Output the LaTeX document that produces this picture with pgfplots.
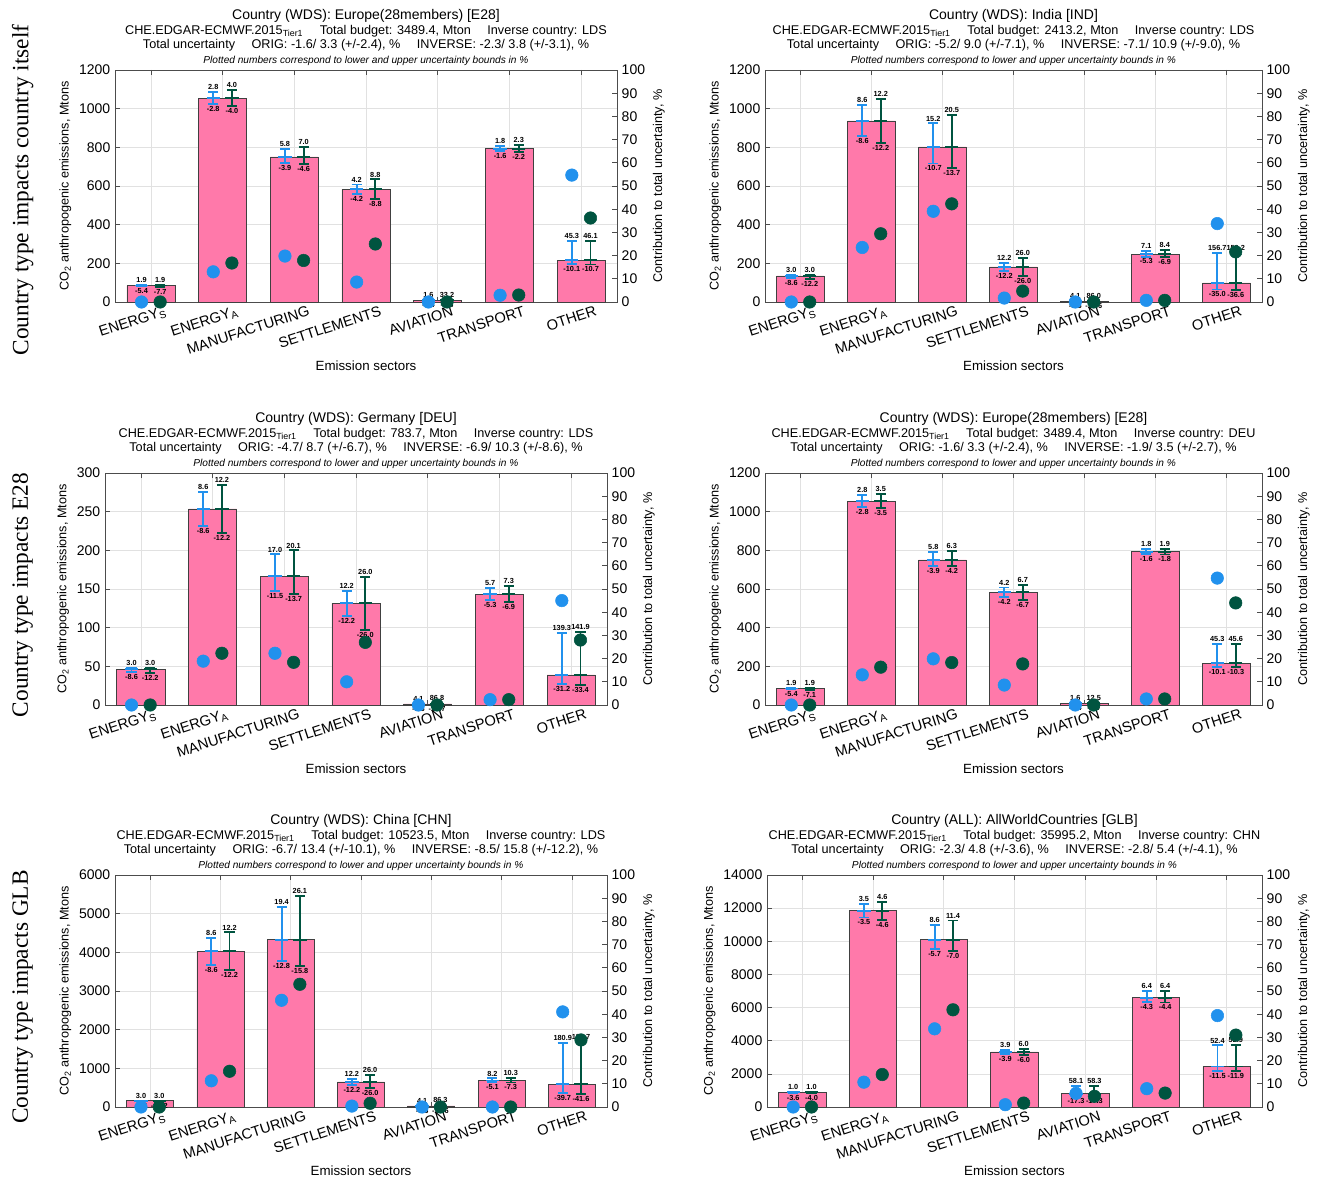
\documentclass[border=0pt]{standalone}
\usepackage{fontspec}
\setmainfont{Liberation Sans}
\newfontfamily\rowfont{Liberation Serif}
\usepackage{pgfplots}
\usepackage{pgfplotstable}
\pgfplotsset{compat=1.18}
\definecolor{barpink}{RGB}{255,121,170}
\definecolor{eblue}{RGB}{33,145,237}
\definecolor{egreen}{RGB}{0,84,64}
\definecolor{gridgray}{RGB}{225,225,225}

% x = sector, y = emissions, bp/bm = ORIG bounds (%), gp/gm = INVERSE bounds (%), bd/gd = contributions (%)
\pgfplotstableread{
x y bp bm gp gm bd gd
1 85 1.9 -5.4 1.9 -7.7 0 0
2 1055 2.8 -2.8 4.0 -4.0 13.0 16.8
3 750 5.8 -3.9 7.0 -4.6 19.8 17.9
4 583 4.2 -4.2 8.8 -8.8 8.6 25.0
5 10 1.6 -1.4 33.2 -9.8 0 0
6 793 1.8 -1.6 2.3 -2.2 2.9 3.0
7 217 45.3 -10.1 46.1 -10.7 54.7 36.2
}\tabA
\pgfplotstableread{
x y bp bm gp gm bd gd
1 135 3.0 -8.6 3.0 -12.2 0 0
2 937 8.6 -8.6 12.2 -12.2 23.5 29.4
3 802 15.2 -10.7 20.5 -13.7 39.1 42.3
4 181 12.2 -12.2 26.0 -26.0 1.7 4.7
5 4 4.1 -3.5 86.0 -25.6 0 0
6 248 7.1 -5.3 8.4 -6.9 0.7 0.7
7 99 156.7 -35.0 159.2 -36.6 33.8 21.6
}\tabB
\pgfplotstableread{
x y bp bm gp gm bd gd
1 46.5 3.0 -8.6 3.0 -12.2 0 0
2 253.5 8.6 -8.6 12.2 -12.2 18.9 22.3
3 166.5 17.0 -11.5 20.1 -13.7 22.3 18.4
4 131.5 12.2 -12.2 26.0 -26.0 10.0 27.0
5 1.3 4.1 -3.5 86.8 -25.7 0 0
6 143 5.7 -5.3 7.3 -6.9 2.3 2.3
7 39 139.3 -31.2 141.9 -33.4 45.0 28.0
}\tabC
\pgfplotstableread{
x y bp bm gp gm bd gd
1 85 1.9 -5.4 1.9 -7.1 0 0
2 1055 2.8 -2.8 3.5 -3.5 13.0 16.3
3 750 5.8 -3.9 6.3 -4.2 19.9 18.3
4 583 4.2 -4.2 6.7 -6.7 8.6 17.7
5 10 1.6 -1.4 12.5 -3.9 0 0
6 793 1.8 -1.6 1.9 -1.8 2.6 2.6
7 217 45.3 -10.1 45.6 -10.3 54.7 44.0
}\tabD
\pgfplotstableread{
x y bp bm gp gm bd gd
1 160 3.0 -8.6 3.0 -12.2 0 0
2 4025 8.6 -8.6 12.2 -12.2 11.3 15.4
3 4330 19.4 -12.8 26.1 -15.8 46.0 52.9
4 650 12.2 -12.2 26.0 -26.0 0.4 1.6
5 30 4.1 -3.5 86.3 -25.6 0 0
6 685 8.2 -5.1 10.3 -7.3 0 0
7 590 180.9 -39.7 183.7 -41.6 41.0 28.9
}\tabE
\pgfplotstableread{
x y bp bm gp gm bd gd
1 900 1.0 -3.6 1.0 -4.0 0 0
2 11850 3.5 -3.5 4.6 -4.6 10.7 14.0
3 10100 8.6 -5.7 11.4 -7.0 33.7 41.9
4 3320 3.9 -3.9 6.0 -6.0 1.0 1.7
5 800 58.1 -17.3 58.3 -17.3 5.9 4.6
6 6600 6.4 -4.3 6.4 -4.4 7.9 6.0
7 2440 52.4 -11.5 52.9 -11.9 39.4 31.0
}\tabF

\pgfplotsset{
  base/.style={
    scale only axis, clip=false, height=174pt,
    xmin=0.5, xmax=7.5, ymin=0,
    axis line style={draw=black!70, line width=0.5pt},
    tick align=inside, major tick length=4pt,
    tick style={black!70, line width=0.5pt},
    tick label style={font=\fontsize{10.5}{12}\selectfont},
    /pgf/number format/assume math mode=true,
    scaled y ticks=false,
    yticklabel style={/pgf/number format/fixed, /pgf/number format/1000 sep={}},
  },
  leftax/.style={base,
    xtick={1,...,7},
    xticklabels={ENERGY\textsubscript{S},ENERGY\textsubscript{A},MANUFACTURING,SETTLEMENTS,AVIATION,TRANSPORT,OTHER},
    xticklabel style={rotate=18, anchor=north east, xshift=12pt, yshift=-2pt, font=\fontsize{11}{12}\selectfont},
    xtick pos=both, ytick pos=left,
    grid=major, major grid style={gridgray, line width=0.5pt},
    xlabel={Emission sectors},
    ylabel={CO\textsubscript{2} anthropogenic emissions, Mtons},
    xlabel style={font=\fontsize{10}{12}\selectfont, yshift=3pt},
    ylabel style={font=\fontsize{9.5}{12}\selectfont, yshift=-1pt},
    title style={align=center, font=\fontsize{10}{10.8}\selectfont, yshift=-6pt},
  },
  rightax/.style={base,
    ymax=100, ytick={0,10,...,100},
    axis x line=none, axis y line*=right,
    ylabel={Contribution to total uncertainty, \%},
    ylabel style={font=\fontsize{9.5}{12}\selectfont, yshift=1pt},
  },
  lbl/.style={draw=none, mark=none, nodes near coords, point meta=explicit,
    nodes near coords style={font=\fontsize{5.5}{6}\selectfont\bfseries, inner sep=1.5pt, anchor=#1,
      /pgf/number format/fixed, /pgf/number format/zerofill, /pgf/number format/precision=1}},
  ebar/.style={only marks, mark=-, mark size=5pt, #1, line width=1.4pt,
    error bars/.cd, y dir=both, y explicit,
    error bar style={line width=1.4pt, #1},
    error mark options={rotate=90, mark size=3.8pt, line width=1.4pt, #1}},
}

\newcommand\ttl[4]{%
  {\fontsize{10.5}{10.8}\selectfont #1}\\
  {\fontsize{9.5}{10.8}\selectfont CHE.EDGAR-ECMWF.2015\textsubscript{Tier1}\hspace{1.3em}Total budget: #2, Mton\hspace{1.3em}Inverse country: #3}\\
  {\fontsize{9.5}{10.8}\selectfont #4}\\
  {\fontsize{7.6}{10.8}\selectfont\itshape Plotted numbers correspond to lower and upper uncertainty bounds in \%}}

\newcommand\leftplots[1]{%
  \addplot[ybar, bar width=0.67, fill=barpink, draw=black!75, line width=0.5pt] table[x=x, y=y]{#1};
  \addplot[ebar=eblue] table[x expr=\thisrow{x}-0.13, y=y,
     y error plus expr=\thisrow{y}*\thisrow{bp}/100, y error minus expr=-\thisrow{y}*\thisrow{bm}/100]{#1};
  \addplot[ebar=egreen] table[x expr=\thisrow{x}+0.13, y=y,
     y error plus expr=\thisrow{y}*\thisrow{gp}/100, y error minus expr=-\thisrow{y}*\thisrow{gm}/100]{#1};
  \addplot[lbl=south] table[x expr=\thisrow{x}-0.13, y expr=\thisrow{y}*(1+\thisrow{bp}/100), meta=bp]{#1};
  \addplot[lbl=north] table[x expr=\thisrow{x}-0.13, y expr=\thisrow{y}*(1+\thisrow{bm}/100), meta=bm]{#1};
  \addplot[lbl=south] table[x expr=\thisrow{x}+0.13, y expr=\thisrow{y}*(1+\thisrow{gp}/100), meta=gp]{#1};
  \addplot[lbl=north] table[x expr=\thisrow{x}+0.13, y expr=\thisrow{y}*(1+\thisrow{gm}/100), meta=gm]{#1};
}
\newcommand\rightplots[1]{%
  \addplot[only marks, mark=*, mark size=4.7pt, eblue] table[x expr=\thisrow{x}-0.13, y=bd]{#1};
  \addplot[only marks, mark=*, mark size=4.7pt, egreen] table[x expr=\thisrow{x}+0.13, y=gd]{#1};
}

\begin{document}
\begin{tikzpicture}
\useasboundingbox (0,0) rectangle (996pt,883.5pt);

% ---------- Panel 1 ----------
\begin{axis}[leftax, at={(86.25pt,657pt)}, anchor=south west, width=376.5pt,
  ymax=1200, ytick={0,200,...,1200},
  title={\ttl{Country (WDS): Europe(28members) [E28]}{3489.4}{LDS}{Total uncertainty\hspace{1.3em}ORIG: -1.6/ 3.3 (+/-2.4), \%\hspace{1.3em}INVERSE: -2.3/ 3.8 (+/-3.1), \%}}]
\leftplots{\tabA}
\end{axis}
\begin{axis}[rightax, at={(86.25pt,657pt)}, anchor=south west, width=376.5pt]
\rightplots{\tabA}
\end{axis}

% ---------- Panel 2 ----------
\begin{axis}[leftax, at={(573.75pt,657pt)}, anchor=south west, width=372.75pt,
  ymax=1200, ytick={0,200,...,1200},
  title={\ttl{Country (WDS): India [IND]}{2413.2}{LDS}{Total uncertainty\hspace{1.3em}ORIG: -5.2/ 9.0 (+/-7.1), \%\hspace{1.3em}INVERSE: -7.1/ 10.9 (+/-9.0), \%}}]
\leftplots{\tabB}
\end{axis}
\begin{axis}[rightax, at={(573.75pt,657pt)}, anchor=south west, width=372.75pt]
\rightplots{\tabB}
\end{axis}

% ---------- Panel 3 ----------
\begin{axis}[leftax, at={(78.75pt,354.75pt)}, anchor=south west, width=376.5pt,
  ymax=300, ytick={0,50,...,300},
  title={\ttl{Country (WDS): Germany [DEU]}{783.7}{LDS}{Total uncertainty\hspace{1.3em}ORIG: -4.7/ 8.7 (+/-6.7), \%\hspace{1.3em}INVERSE: -6.9/ 10.3 (+/-8.6), \%}}]
\leftplots{\tabC}
\end{axis}
\begin{axis}[rightax, at={(78.75pt,354.75pt)}, anchor=south west, width=376.5pt]
\rightplots{\tabC}
\end{axis}

% ---------- Panel 4 ----------
\begin{axis}[leftax, at={(573.75pt,354.75pt)}, anchor=south west, width=372.75pt,
  ymax=1200, ytick={0,200,...,1200},
  title={\ttl{Country (WDS): Europe(28members) [E28]}{3489.4}{DEU}{Total uncertainty\hspace{1.3em}ORIG: -1.6/ 3.3 (+/-2.4), \%\hspace{1.3em}INVERSE: -1.9/ 3.5 (+/-2.7), \%}}]
\leftplots{\tabD}
\end{axis}
\begin{axis}[rightax, at={(573.75pt,354.75pt)}, anchor=south west, width=372.75pt]
\rightplots{\tabD}
\end{axis}

% ---------- Panel 5 ----------
\begin{axis}[leftax, at={(86.25pt,53.25pt)}, anchor=south west, width=369pt,
  ymax=6000, ytick={0,1000,...,6000},
  title={\ttl{Country (WDS): China [CHN]}{10523.5}{LDS}{Total uncertainty\hspace{1.3em}ORIG: -6.7/ 13.4 (+/-10.1), \%\hspace{1.3em}INVERSE: -8.5/ 15.8 (+/-12.2), \%}}]
\leftplots{\tabE}
\end{axis}
\begin{axis}[rightax, at={(86.25pt,53.25pt)}, anchor=south west, width=369pt]
\rightplots{\tabE}
\end{axis}

% ---------- Panel 6 ----------
\begin{axis}[leftax, at={(575.25pt,53.25pt)}, anchor=south west, width=371.25pt,
  ymax=14000, ytick={0,2000,...,14000},
  title={\ttl{Country (ALL): AllWorldCountries [GLB]}{35995.2}{CHN}{Total uncertainty\hspace{1.3em}ORIG: -2.3/ 4.8 (+/-3.6), \%\hspace{1.3em}INVERSE: -2.8/ 5.4 (+/-4.1), \%}}]
\leftplots{\tabF}
\end{axis}
\begin{axis}[rightax, at={(575.25pt,53.25pt)}, anchor=south west, width=371.25pt]
\rightplots{\tabF}
\end{axis}

% ---------- Row labels ----------
\node[rotate=90, font=\rowfont\fontsize{17.5}{20}\selectfont] at (17pt,741pt) {Country type impacts country itself};
\node[rotate=90, font=\rowfont\fontsize{17.5}{20}\selectfont] at (17pt,437.25pt) {Country type impacts E28};
\node[rotate=90, font=\rowfont\fontsize{17.5}{20}\selectfont] at (17pt,135.75pt) {Country type impacts GLB};
\end{tikzpicture}
\end{document}
